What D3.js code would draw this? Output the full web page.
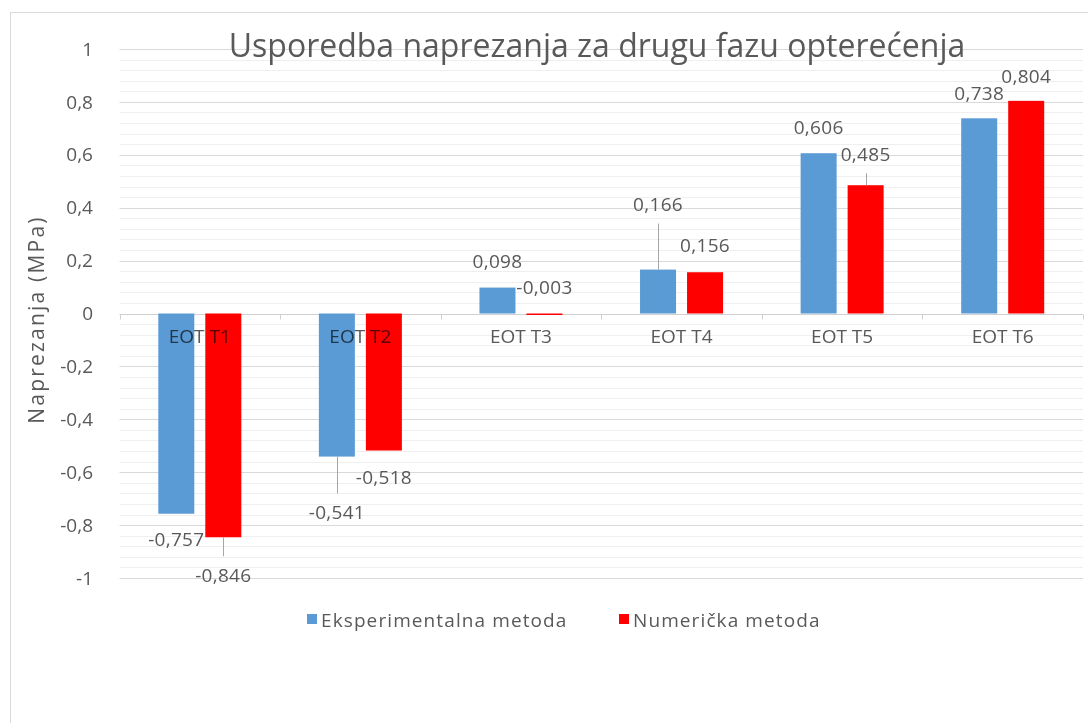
<!DOCTYPE html>
<html>
<head>
<meta charset="utf-8">
<script src="https://cdn.jsdelivr.net/npm/d3@7"></script>
<style>
  body { margin: 0; background: #fff; }
  svg { display: block; font-family: "Open Sans", sans-serif; }
</style>
</head>
<body>
<svg id="chart" width="1088" height="723"></svg>
<script>
// ---- data ----
const categories = ["EOT T1", "EOT T2", "EOT T3", "EOT T4", "EOT T5", "EOT T6"];
const seriesNames = ["Eksperimentalna metoda", "Numerička metoda"];
const experimental = [-0.757, -0.541, 0.098, 0.166, 0.606, 0.738];
const numerical = [-0.846, -0.518, -0.003, 0.156, 0.485, 0.804];
const yTicks = [1, 0.8, 0.6, 0.4, 0.2, 0, -0.2, -0.4, -0.6, -0.8, -1];
const titleText = "Usporedba naprezanja za drugu fazu opterećenja";
const yTitle = "Naprezanja (MPa)";

// ---- layout: label centre offset from bar end in px (negative = upward) ----
const labelOffsets = [
  [26, 56, -26, -65, -26, -25],   // experimental
  [38, 27, -27, -27, -31, -24]    // numerical
];
const leaderLines = [
  [false, true, false, true, false, false],
  [true, false, false, false, true, false]
];
const colors = ["#5B9BD5", "#FF0000"];
const textColor = "#595959";

const svg = d3.select("#chart");
const loc = d3.formatLocale({decimal: ",", thousands: ".", grouping: [3], currency: ["", "€"], minus: "-"});
const fmtTick = loc.format(".1~f");
const fmtVal = loc.format(".3f");

const margin = {left: 119.5, right: 1083, top: 49, bottom: 578};
const x = d3.scaleBand().domain(categories).range([margin.left, margin.right]).paddingInner(0).paddingOuter(0);
const y = d3.scaleLinear().domain([-1, 1]).range([margin.bottom, margin.top]);
const bw = x.bandwidth();
const x1 = d3.scaleBand().domain(seriesNames).range([bw / 2 - 41.5, bw / 2 + 41.5]).paddingInner(11 / 47).paddingOuter(0);

// chart border
svg.append("rect").attr("x", 10.5).attr("y", 12.5).attr("width", 1200).attr("height", 900)
  .attr("fill", "#fff").attr("stroke", "#d9d9d9").attr("stroke-width", 1);

// minor gridlines
const minor = d3.range(-25, 26).map(i => i * 0.04).filter(v => Math.abs(Math.round(v * 5) - v * 5) > 1e-6);
svg.append("g").selectAll("line").data(minor).join("line")
  .attr("x1", margin.left).attr("x2", margin.right)
  .attr("y1", d => Math.round(y(d)) + 0.5).attr("y2", d => Math.round(y(d)) + 0.5)
  .attr("stroke", "#efefef").attr("stroke-width", 1);

// major gridlines
svg.append("g").selectAll("line").data(yTicks.filter(v => v !== 0)).join("line")
  .attr("x1", margin.left).attr("x2", margin.right)
  .attr("y1", d => Math.round(y(d)) + 0.5).attr("y2", d => Math.round(y(d)) + 0.5)
  .attr("stroke", "#d9d9d9").attr("stroke-width", 1);

// y tick labels
svg.append("g").selectAll("text").data(yTicks).join("text")
  .attr("x", 93).attr("y", d => y(d)).attr("dy", "0.35em")
  .attr("text-anchor", "end").attr("fill", textColor).attr("font-size", 19)
  .text(d => fmtTick(d));

// y title
svg.append("text")
  .attr("transform", `translate(44, ${y(0) + 6}) rotate(-90)`)
  .attr("text-anchor", "middle").attr("fill", textColor).attr("font-size", 21)
  .attr("letter-spacing", 2.2)
  .text(yTitle);

// title
svg.append("text").attr("x", 597).attr("y", 57)
  .attr("text-anchor", "middle").attr("fill", textColor).attr("font-size", 32)
  .text(titleText);

// zero axis + ticks
const zeroY = Math.round(y(0)) + 0.5;
svg.append("line").attr("x1", margin.left).attr("x2", margin.right).attr("y1", zeroY).attr("y2", zeroY)
  .attr("stroke", "#d0d0d0").attr("stroke-width", 1);
const bounds = categories.map(c => x(c)).concat([margin.right]);
svg.append("g").selectAll("line").data(bounds).join("line")
  .attr("x1", d => Math.round(d) + 0.5).attr("x2", d => Math.round(d) + 0.5)
  .attr("y1", zeroY).attr("y2", zeroY + 5)
  .attr("stroke", "#d0d0d0");

// bars
const seriesData = [experimental, numerical];
seriesData.forEach((vals, si) => {
  const g = svg.append("g");
  g.selectAll("rect").data(vals).join("rect")
    .attr("x", (d, i) => x(categories[i]) + x1(seriesNames[si]))
    .attr("width", x1.bandwidth())
    .attr("y", d => y(Math.max(0, d)))
    .attr("height", d => Math.max(1.5, Math.abs(y(d) - y(0))))
    .attr("fill", colors[si]);
});

// category labels over bars (multiply blend to mimic appearance)
svg.append("g").style("mix-blend-mode", "multiply").selectAll("text").data(categories).join("text")
  .attr("x", d => x(d) + bw / 2).attr("y", zeroY + 28)
  .attr("text-anchor", "middle").attr("fill", textColor).attr("font-size", 19)
  .style("mix-blend-mode", "multiply")
  .text(d => d);

// data labels + leader lines
seriesData.forEach((vals, si) => {
  const g = svg.append("g");
  vals.forEach((v, i) => {
    const cx = x(categories[i]) + x1(seriesNames[si]) + x1.bandwidth() / 2;
    const ey = y(v);
    const off = labelOffsets[si][i];
    const ly = ey + off;
    if (leaderLines[si][i]) {
      g.append("line").attr("x1", Math.round(cx) + 0.5).attr("x2", Math.round(cx) + 0.5)
        .attr("y1", ey).attr("y2", ly - Math.sign(off) * 19)
        .attr("stroke", "#a6a6a6").attr("stroke-width", 1);
    }
    g.append("text").attr("x", cx).attr("y", ly).attr("dy", "0.35em")
      .attr("text-anchor", "middle").attr("fill", textColor).attr("font-size", 19)
      .attr("letter-spacing", 0.3)
      .text(fmtVal(v));
  });
});

// legend
const legend = svg.append("g");
const legendX = [307, 619];
seriesNames.forEach((s, i) => {
  legend.append("rect").attr("x", legendX[i]).attr("y", 614).attr("width", 10).attr("height", 10).attr("fill", colors[i]);
  legend.append("text").attr("x", legendX[i] + 14).attr("y", 620).attr("dy", "0.35em")
    .attr("fill", textColor).attr("font-size", 19).attr("letter-spacing", 1.1).text(s);
});
</script>
</body>
</html>
